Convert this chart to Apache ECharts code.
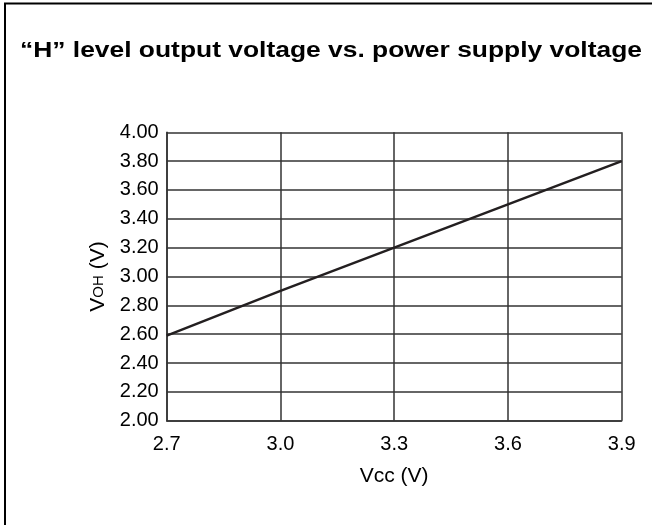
<!DOCTYPE html>
<html>
<head>
<meta charset="utf-8">
<script src="https://cdn.jsdelivr.net/npm/echarts@6/dist/echarts.min.js"></script>
<style>
  html, body { margin: 0; padding: 0; background: #fff; }
  #chart { width: 652px; height: 525px; }
</style>
</head>
<body>
<div id="chart"></div>
<script>
// Supply voltage (V) and measured "H" level output voltage (V)
const vcc = [2.7, 3.0, 3.3, 3.6, 3.9];
const voh = [2.59, 2.90, 3.20, 3.50, 3.80];

const chart = echarts.init(document.getElementById('chart'));
const FONT = '"Liberation Sans", Arial, sans-serif';
const INK = '#231f20';

chart.setOption({
  backgroundColor: '#fff',
  animation: false,
  grid: { left: 166.7, right: 30.3, top: 132.3, bottom: 104.3, containLabel: false },
  xAxis: {
    type: 'value',
    min: 2.7, max: 3.9, interval: 0.3,
    name: 'Vcc (V)',
    nameLocation: 'middle',
    nameGap: 45,
    nameTextStyle: { fontFamily: FONT, fontSize: 21, color: '#000' },
    axisLine: { show: true, lineStyle: { color: '#333', width: 1.5 } },
    axisTick: { show: false },
    axisLabel: {
      fontFamily: FONT, fontSize: 20, color: '#000', margin: 14,
      formatter: v => v.toFixed(1)
    },
    splitLine: { show: true, lineStyle: { color: '#333', width: 1.5 } }
  },
  yAxis: {
    type: 'value',
    min: 2.0, max: 4.0, interval: 0.2,
    name: '{v|V}{s|OH}{v| (V)}',
    nameLocation: 'middle',
    nameGap: 52,
    nameTextStyle: {
      fontFamily: FONT, color: '#000',
      rich: {
        v: { fontFamily: FONT, fontSize: 21, color: '#000' },
        s: { fontFamily: FONT, fontSize: 15, color: '#000' }
      }
    },
    axisLine: { show: true, lineStyle: { color: '#333', width: 1.5 } },
    axisTick: { show: false },
    axisLabel: {
      fontFamily: FONT, fontSize: 20, color: '#000', margin: 8,
      formatter: v => v.toFixed(2)
    },
    splitLine: { show: true, lineStyle: { color: '#333', width: 1.5 } }
  },
  series: [{
    type: 'line',
    data: vcc.map((x, i) => [x, voh[i]]),
    symbol: 'none',
    lineStyle: { color: INK, width: 2.5 }
  }],
  graphic: [
    // outer frame (top and left edges)
    { type: 'line', shape: { x1: 4, y1: 3.5, x2: 652, y2: 3.5 }, style: { stroke: '#000', lineWidth: 2 } },
    { type: 'line', shape: { x1: 5, y1: 3, x2: 5, y2: 525 }, style: { stroke: '#000', lineWidth: 2 } },
    // heading, slightly widened letterforms
    {
      type: 'text', x: 20, y: 40, scaleX: 1.2,
      style: {
        text: '\u201cH\u201d level output voltage vs. power supply voltage',
        font: 'bold 22px "Liberation Sans", Arial, sans-serif',
        fill: '#000', verticalAlign: 'top', align: 'left'
      }
    }
  ]
});
</script>
</body>
</html>
